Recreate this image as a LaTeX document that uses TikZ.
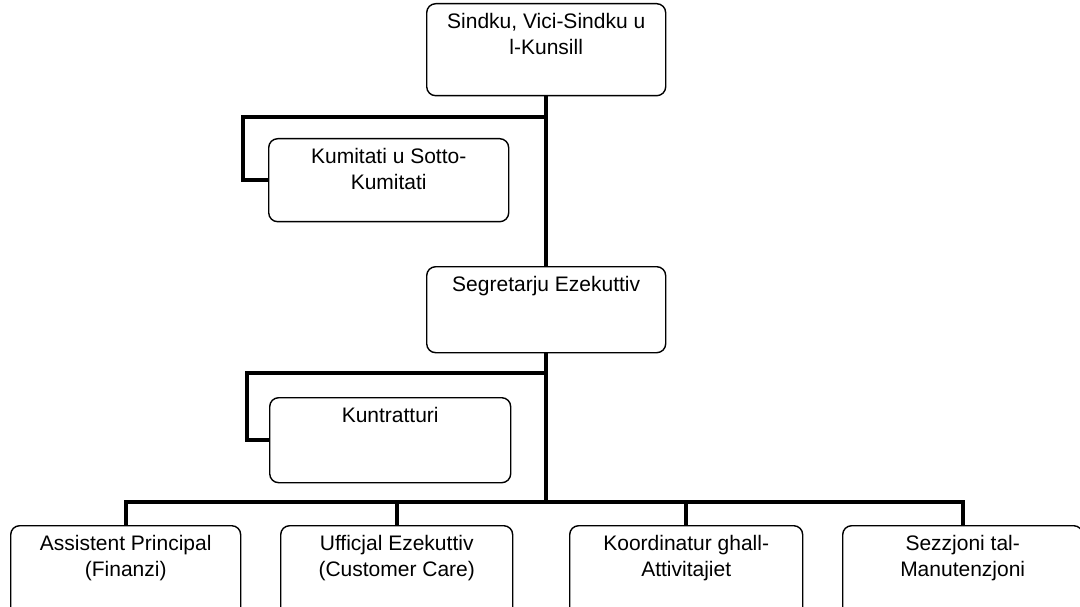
\documentclass[tikz,border=0pt]{standalone}
\usepackage{fontspec}
\setmainfont{Liberation Sans}
\usepackage{tikz}
\usetikzlibrary{calc}

\begin{document}
\begin{tikzpicture}[x=1pt,y=-1pt,font=\fontsize{21}{26}\selectfont,
	kaxxa/.style={draw,rounded corners=9pt,line width=1.4pt,inner sep=0pt,anchor=north west},
	rabta/.style={line width=4pt}]
	\def\ktb#1#2#3{\parbox[c][#2pt][t]{#1pt}{\centering\vspace*{10pt}#3\par}}%kitba fil-kaxxa
	\useasboundingbox (0,0) rectangle (1080,607);
	\clip (0,0) rectangle (1080,607);
	% kaxxi
	\node[kaxxa] (kunsill) at (426,3) {\ktb{239}{92}{Sindku, Vici-Sindku u\\l-Kunsill}};
	\node[kaxxa] (kumitati) at (268,138) {\ktb{240}{83}{Kumitati u Sotto-\\Kumitati}};
	\node[kaxxa] (segretarju) at (426,266) {\ktb{239}{86}{Segretarju Ezekuttiv}};
	\node[kaxxa] (kuntratturi) at (269,397) {\ktb{241}{85}{Kuntratturi}};
	\node[kaxxa] (finanzi) at (10,525) {\ktb{230}{110}{Assistent Principal\\(Finanzi)}};
	\node[kaxxa] (customer) at (280,525) {\ktb{232}{110}{Ufficjal Ezekuttiv\\(Customer Care)}};
	\node[kaxxa] (attivitajiet) at (569,525) {\ktb{233}{110}{Koordinatur ghall-\\Attivitajiet}};
	\node[kaxxa] (manutenzjoni) at (842,525) {\ktb{240}{110}{Sezzjoni tal-\\Manutenzjoni}};
	% rabtiet
	\coordinate (b1) at (243,117);
	\coordinate (b2) at (247,373);
	\coordinate (bus) at (545,502);
	\draw[rabta] (kunsill) -- (segretarju);
	\draw[rabta] (kunsill.south |- b1) -- (b1) |- (kumitati.west);
	\draw[rabta] (segretarju) -- (segretarju |- bus);
	\draw[rabta] (segretarju.south |- b2) -- (b2) |- (kuntratturi.west);
	\draw[rabta] (finanzi.north) -- (finanzi.north |- bus) -| (manutenzjoni.north);
	\draw[rabta] (customer.north) -- (customer.north |- bus);
	\draw[rabta] (attivitajiet.north) -- (attivitajiet.north |- bus);
\end{tikzpicture}
\end{document}
